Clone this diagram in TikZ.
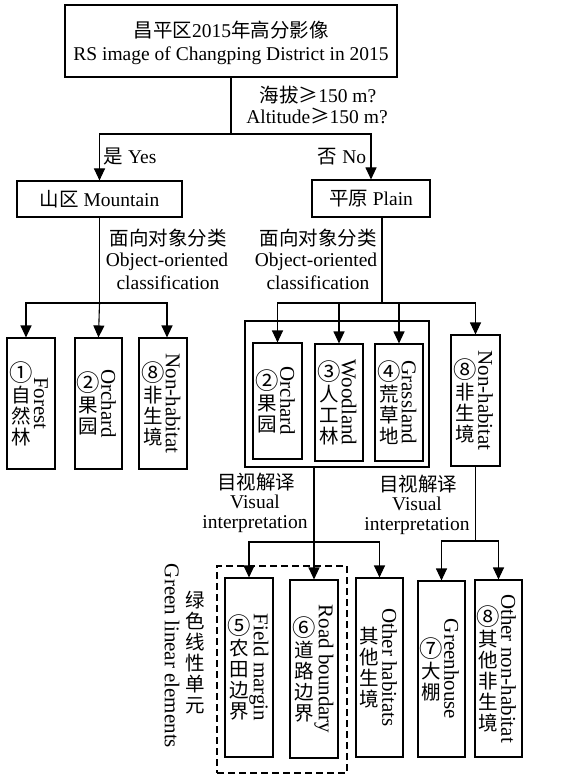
\documentclass[tikz,border=0pt]{standalone}
\usepackage{fontspec}
\usepackage{graphicx}
\setmainfont{Liberation Serif}
\newfontfamily\cjk{Noto Sans CJK SC}
\usetikzlibrary{arrows.meta}
\newcommand\cir[1]{\scalebox{1.2}{#1}}
\newcommand\vbx[7]{%
  \node[box, minimum width=#4, minimum height=#5] (#1) at (#2,#3) {};
  \node[cn] (#1-cn) at ([xshift=-10pt]#1.center) {#6};
  \node[en] (#1-en) at ([xshift=10pt]#1.center) {#7};}
\begin{document}
\begin{tikzpicture}[x=1pt,y=-1pt,
  every node/.style={inner sep=0pt, font=\fontsize{19.5}{22}\selectfont},
  box/.style={draw, line width=1.1pt},
  ln/.style={line width=1.1pt},
  arr/.style={line width=1.1pt, -{Triangle[length=12pt,width=11pt]}},
  cn/.style={align=center, font=\cjk\fontsize{19.5}{21}\selectfont},
  en/.style={rotate=-90, font=\fontsize{21}{22}\selectfont}]
\useasboundingbox (0,0) rectangle (576,775);

% top box
\node[box, minimum width=332, minimum height=72] (top) at (231,41) {};
\node (t1) at (231,30) {{\cjk 昌平区}2015{\cjk 年高分影像}};
\node (t2) at (231,56) {RS image of Changping District in 2015};
\node (q1) at (318,95) {{\cjk 海拔≥}150 m?};
\node (q2) at (317,116) {Altitude{\cjk ≥}150 m?};

\node[box, minimum width=165, minimum height=36] (mtn) at (99.5,199) {{\cjk 山区} Mountain};
\node[box, minimum width=118, minimum height=37] (pln) at (371,198.5) {{\cjk 平原} Plain};
\node (yes) at (130,157) {{\cjk 是} Yes};
\node (no) at (342,157) {{\cjk 否} No};

\coordinate (j0) at (231,134);
\draw[arr] (top.south) -- (j0) -| (mtn.north);
\draw[arr] (j0) -| (pln.north);

% object-oriented labels
\node (oa1) at (168,238) {\cjk 面向对象分类};
\node (oa2) at (167,262) {Object-oriented};
\node (oa3) at (168,283) {classification};
\node (ob1) at (318,238) {\cjk 面向对象分类};
\node (ob2) at (316,262) {Object-oriented};
\node (ob3) at (318,283) {classification};

% mountain children
\vbx{forest}{31}{403.5}{48}{131}{\cir{①}\\自\\然\\林}{Forest}
\vbx{orcha}{98.5}{403.5}{47}{131}{\cir{②}\\果\\园}{Orchard}
\vbx{nha}{163}{403.5}{48}{131}{\cir{⑧}\\非\\生\\境}{Non-habitat}

\coordinate (j1) at (99.5,303);
\draw[ln] (mtn.south) -- (j1);
\draw[arr] (j1) -| ([xshift=-5pt]forest.north);
\draw[arr] (j1) -- (orcha.north);
\draw[arr] (j1) -| ([xshift=4pt]nha.north);

% plain children
\node[box, minimum width=184, minimum height=146] (grp) at (337,394) {};
\vbx{orchb}{277.5}{401}{49}{116}{\cir{②}\\果\\园}{Orchard}
\vbx{wood}{339}{402.5}{48}{117}{\cir{③}\\人\\工\\林}{Woodland}
\vbx{grass}{399}{402.5}{48}{117}{\cir{④}\\荒\\草\\地}{Grassland}
\vbx{nhb}{475.5}{400.5}{49}{131}{\cir{⑧}\\非\\生\\境}{Non-habitat}

\coordinate (j2) at (382,303);
\draw[ln] ([xshift=11pt]pln.south) -- (j2);
\draw[arr] (j2) -| (orchb.north);
\draw[arr] (j2) -| (wood.north);
\draw[arr] (j2) -| (grass.north);
\draw[arr] (j2) -| (nhb.north);

% visual interpretation labels
\node (va1) at (256,482) {\cjk 目视解译};
\node[anchor=north, align=center] (va2) at (255,495) {Visual\\[-2pt]interpretation};
\node (vb1) at (418,484) {\cjk 目视解译};
\node[anchor=north, align=center] (vb2) at (417,497) {Visual\\[-2pt]interpretation};

% bottom row
\node[draw, line width=1.1pt, dash pattern=on 7pt off 4pt, minimum width=130, minimum height=207] (dash) at (282,669.5) {};
\vbx{field}{249}{667.5}{48}{179}{\cir{⑤}\\农\\田\\边\\界}{Field margin}
\vbx{road}{314}{669}{48}{178}{\cir{⑥}\\道\\路\\边\\界}{Road boundary}
\vbx{oth}{379.5}{667.5}{47}{179}{其\\他\\生\\境}{Other habitats}
\vbx{green}{441.5}{669}{47}{176}{\cir{⑦}\\大\\棚}{Greenhouse}
\vbx{onh}{498.5}{668.5}{47}{177}{\cir{⑧}\\其\\他\\非\\生\\境}{Other non-habitat}

\node[cn] (gl-cn) at (195,653) {绿\\色\\线\\性\\单\\元};
\node[en] (gl-en) at (172,656) {Green linear elements};

\coordinate (j3) at (314,542);
\draw[ln] (grp.south -| j3) -- (j3);
\draw[arr] (j3) -| (field.north);
\draw[arr] (j3) -- (road.north);
\draw[arr] (j3) -| (oth.north);

\coordinate (j4) at (475.5,541);
\draw[ln] (nhb.south) -- (j4);
\draw[arr] (j4) -| (green.north);
\draw[arr] (j4) -| (onh.north);
\end{tikzpicture}
\end{document}
